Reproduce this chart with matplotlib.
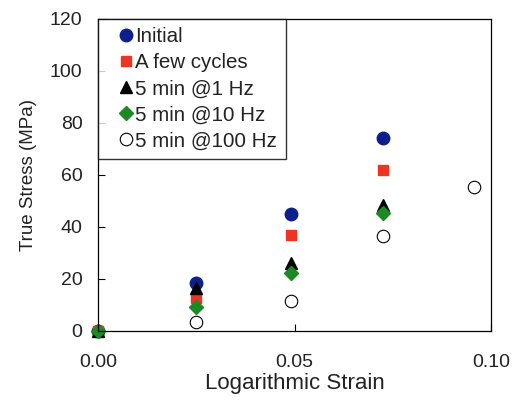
import matplotlib.pyplot as plt

plt.rcParams['font.family'] = ['Liberation Sans', 'DejaVu Sans']

strain_initial = [0.0, 0.025, 0.049, 0.0725]
stress_initial = [0.0, 18.3, 44.8, 74.0]

strain_cycles = [0.0, 0.025, 0.049, 0.0725]
stress_cycles = [0.0, 12.5, 37.0, 62.0]

strain_1hz = [0.0, 0.025, 0.049, 0.0725]
stress_1hz = [0.0, 16.5, 26.0, 48.5]

strain_10hz = [0.0, 0.025, 0.049, 0.0725]
stress_10hz = [0.0, 9.2, 22.3, 45.2]

strain_100hz = [0.025, 0.049, 0.0725, 0.0955]
stress_100hz = [3.4, 11.6, 36.5, 55.3]

xticks = [0.0, 0.05, 0.10]
yticks = [0, 20, 40, 60, 80, 100, 120]

txt = '#222222'

fig = plt.figure(figsize=(5.2, 4.01), dpi=100)
ax = fig.add_axes([0.188, 0.175, 0.757, 0.778])

ax.plot(strain_initial, stress_initial, 'o', color='#0d1f8c', ms=9,
        mec='#0d1f8c', label='Initial', clip_on=False)
ax.plot(strain_cycles, stress_cycles, 's', color='#ee3322', ms=7.5,
        mec='#ee3322', label='A few cycles', clip_on=False)
ax.plot(strain_1hz, stress_1hz, '^', color='black', ms=8.5,
        label='5 min @1 Hz', clip_on=False)
ax.plot(strain_10hz, stress_10hz, 'D', color='#1b8a23', ms=7,
        mec='#1b8a23', label='5 min @10 Hz', clip_on=False)
ax.plot(strain_100hz, stress_100hz, 'o', color='white', ms=9,
        mec='black', mew=0.8, label='5 min @100 Hz', clip_on=False)

ax.set_xlim(0, 0.10)
ax.set_ylim(0, 120)
ax.set_xticks(xticks)
ax.set_xticklabels(['0.00', '0.05', '0.10'])
ax.set_yticks(yticks)
ax.tick_params(direction='in', length=5, labelsize=14, labelcolor=txt)
ax.tick_params(axis='x', pad=17)
ax.tick_params(axis='y', pad=11)
ax.set_xlabel('Logarithmic Strain', fontsize=16, color=txt, labelpad=1)
ax.set_ylabel('True Stress (MPa)', fontsize=13.5, color=txt, labelpad=9)
for s in ax.spines.values():
    s.set_linewidth(0.9)

leg = ax.legend(loc='upper left', fontsize=14.8, frameon=True, fancybox=False,
                edgecolor='black', borderaxespad=0, handlelength=1.86,
                handletextpad=-0.45, labelspacing=0.34, borderpad=0.42)
leg.get_frame().set_linewidth(1.0)
for t in leg.get_texts():
    t.set_color(txt)

fig.savefig('out.png', dpi=100)
